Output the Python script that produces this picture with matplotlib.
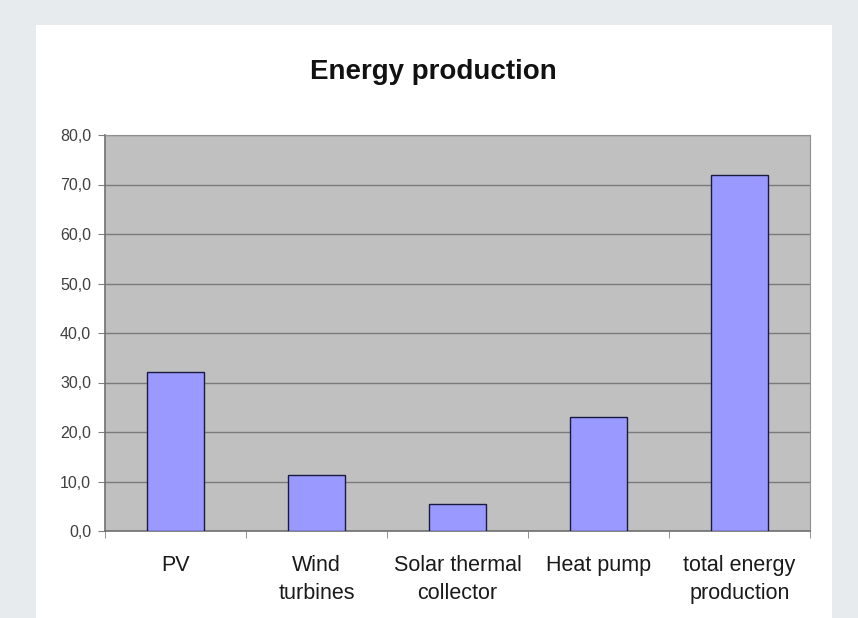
import matplotlib.pyplot as plt
from matplotlib.patches import Rectangle
from matplotlib.ticker import FuncFormatter

categories = ["PV", "Wind\nturbines", "Solar thermal\ncollector", "Heat pump", "total energy\nproduction"]
values = [32.2, 11.3, 5.4, 23.0, 71.9]
yticks = [0, 10, 20, 30, 40, 50, 60, 70, 80]

plt.rcParams['font.family'] = ['Liberation Sans', 'DejaVu Sans']

W, H = 858, 618
fig = plt.figure(figsize=(W / 100, H / 100), dpi=100)
fig.patch.set_facecolor('#e8ebee')

# white chart panel, behind the axes
fig.patches.append(Rectangle((36 / W, 0), (832 - 36) / W, (618 - 25) / H,
                             transform=fig.transFigure, facecolor='white',
                             edgecolor='none', zorder=-5))

ax = fig.add_axes([105 / W, 1 - 531 / H, (810 - 105) / W, (531 - 135) / H])
ax.set_zorder(2)
ax.set_facecolor('#c0c0c0')

x = range(len(categories))
ax.bar(x, values, width=0.41, color='#9999ff', edgecolor='#1a1a40', linewidth=1.0, zorder=3)

ax.set_xlim(-0.5, len(categories) - 0.5)
ax.set_ylim(0, 80)
ax.set_yticks(yticks)
ax.yaxis.set_major_formatter(FuncFormatter(lambda v, p: f"{v:.1f}".replace('.', ',')))
ax.grid(axis='y', color='#7a7a7a', linewidth=1.0, zorder=1)

ax.set_xticks(list(x))
ax.set_xticklabels(categories, fontsize=15.5, color='#1a1a1a', linespacing=1.45, va='top')
ax.set_xticks([i - 0.5 for i in range(len(categories) + 1)], minor=True)
ax.tick_params(axis='x', which='major', length=0, pad=17)
ax.tick_params(axis='x', which='minor', length=5, color='#808080', direction='out')
ax.tick_params(axis='y', length=5, color='#808080', labelsize=11.5, labelcolor='#404040', pad=5)

for s in ['left', 'bottom']:
    ax.spines[s].set_color('#707070')
    ax.spines[s].set_linewidth(1.2)
for s in ['right', 'top']:
    ax.spines[s].set_color('#909090')
    ax.spines[s].set_linewidth(0.8)

fig.text(433 / W, 1 - 72 / H, "Energy production", fontsize=20, fontweight='bold',
         ha='center', va='center', color='#111111')

fig.savefig("out.png", dpi=100, facecolor=fig.get_facecolor())
